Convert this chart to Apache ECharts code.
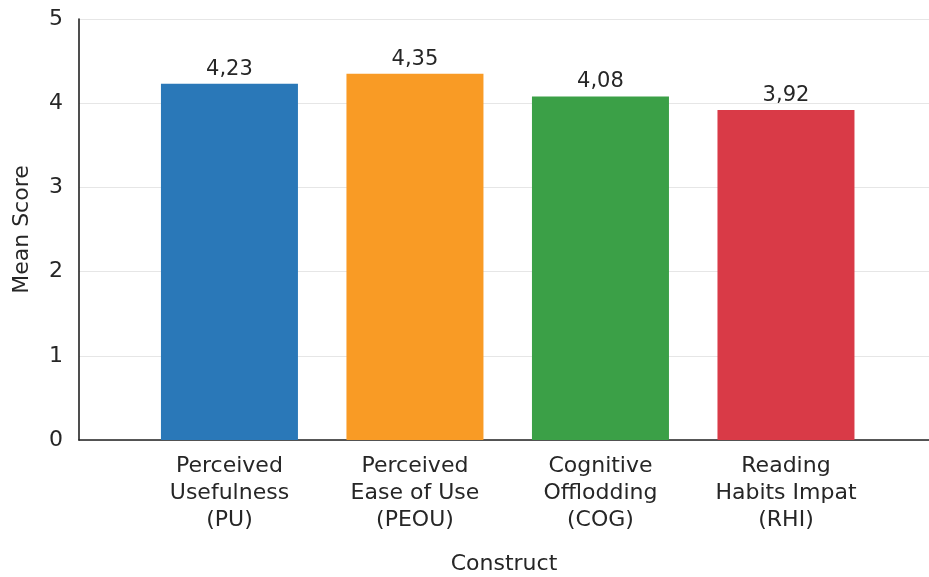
<!DOCTYPE html>
<html>
<head>
<meta charset="utf-8">
<script src="https://cdn.jsdelivr.net/npm/echarts@6/dist/echarts.min.js"></script>
<style>
  html, body { margin: 0; padding: 0; background: #ffffff; }
  #chart { width: 929px; height: 577px; }
</style>
</head>
<body>
<div id="chart"></div>
<script>
// Constructs on the x axis (line breaks as shown under each bar)
const categories = [
  'Perceived\nUsefulness\n(PU)',
  'Perceived\nEase of Use\n(PEOU)',
  'Cognitive\nOfflodding\n(COG)',
  'Reading\nHabits Impat\n(RHI)'
];
// Mean score per construct
const meanScores = [4.23, 4.35, 4.08, 3.92];
// Y-axis tick values
const yTicks = [0, 1, 2, 3, 4, 5];

const barColors = ['#2a78b8', '#f99b25', '#3ba047', '#d93a47'];
const FONT = 'DejaVu Sans';
const TEXT = '#262626';

const chart = echarts.init(document.getElementById('chart'), null, { renderer: 'canvas' });

// Bars sit at integer positions 0..n-1 on a numeric x axis so the frame
// can extend past the outer bars on both sides.
const barData = meanScores.map((v, i) => ({
  value: [i, v],
  itemStyle: { color: barColors[i] }
}));

chart.setOption({
  animation: false,
  backgroundColor: '#ffffff',
  grid: { left: 79, right: 0, top: 19, bottom: 137, containLabel: false, outerBoundsMode: 'none' },
  xAxis: {
    type: 'value',
    min: -0.811,
    max: 3.771,
    name: 'Construct',
    nameLocation: 'middle',
    nameGap: 113,
    nameTextStyle: { fontFamily: FONT, fontSize: 22, color: TEXT },
    axisLine: { show: true, onZero: false, lineStyle: { color: '#222222', width: 1.6 } },
    axisTick: { show: false },
    splitLine: { show: false },
    axisLabel: {
      customValues: categories.map((_, i) => i),
      formatter: (v) => categories[Math.round(v)] || '',
      fontFamily: FONT,
      fontSize: 22,
      lineHeight: 27,
      color: TEXT,
      margin: 13,
      align: 'center'
    }
  },
  yAxis: {
    type: 'value',
    min: yTicks[0],
    max: yTicks[yTicks.length - 1],
    interval: 1,
    name: 'Mean Score',
    nameLocation: 'middle',
    nameGap: 46,
    nameRotate: 90,
    nameTextStyle: { fontFamily: FONT, fontSize: 22, color: TEXT },
    axisLine: { show: true, onZero: false, lineStyle: { color: '#222222', width: 1.6 } },
    axisTick: { show: false },
    splitLine: { show: true, lineStyle: { color: '#e6e6e6', width: 1.2 } },
    axisLabel: {
      fontFamily: FONT,
      fontSize: 22,
      color: TEXT,
      margin: 16
    }
  },
  series: [{
    type: 'bar',
    barWidth: 137,
    data: barData,
    label: {
      show: true,
      position: 'top',
      distance: 4,
      fontFamily: FONT,
      fontSize: 21,
      color: TEXT,
      formatter: (p) => p.value[1].toFixed(2).replace('.', ',')
    }
  }]
});
</script>
</body>
</html>
